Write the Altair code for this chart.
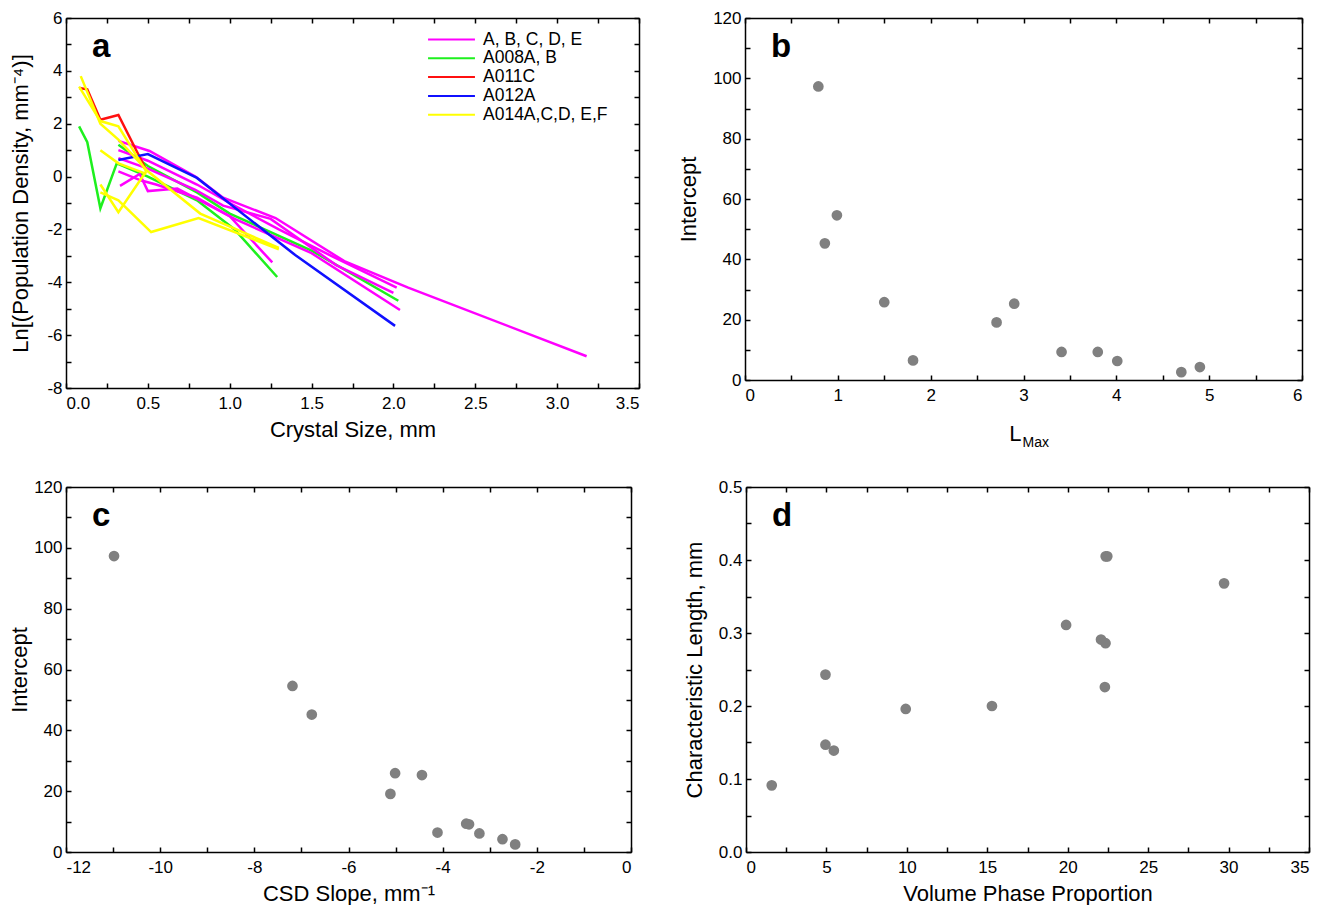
import altair as alt
import pandas as pd

FONT = "Liberation Sans"

# ---------------- Panel a: CSD lines ----------------
GROUPS = ["A, B, C, D, E", "A008A, B", "A011C", "A012A", "A014A,C,D, E,F"]
COLORS = ["#FF00FF", "#1EF01E", "#FF1010", "#1010FF", "#FFFF00"]

m1_x = [0.32, 0.51, 0.79, 0.96, 1.28, 1.70, 2.09, 3.18]
m1_y = [1.35, 0.97, 0.0, -0.8, -1.57, -3.2, -4.2, -6.8]
m2_x = [0.32, 0.50, 0.79, 0.96, 1.25, 1.65, 2.00]
m2_y = [0.7, 0.3, -0.5, -1.1, -1.6, -3.35, -4.4]
m3_x = [0.33, 0.45, 0.50, 0.68, 1.03, 1.50, 2.04]
m3_y = [-0.35, 0.1, -0.55, -0.45, -1.6, -2.9, -5.05]
m4_x = [0.32, 0.46, 0.55, 0.80, 1.00, 1.26]
m4_y = [0.2, -0.15, -0.3, -0.8, -1.5, -3.25]
m5_x = [0.32, 0.50, 0.80, 1.00, 1.30, 1.62, 2.02]
m5_y = [1.0, 0.6, -0.3, -1.0, -2.0, -3.0, -4.2]

g1_x = [0.08, 0.13, 0.21, 0.31, 0.50, 0.80, 1.03, 1.29]
g1_y = [1.9, 1.3, -1.2, 0.5, 0.0, -0.9, -2.0, -3.8]
g2_x = [0.32, 0.50, 0.80, 1.00, 1.50, 2.03]
g2_y = [1.2, 0.4, -0.6, -1.4, -2.8, -4.7]

r1_x = [0.08, 0.13, 0.21, 0.32, 0.49]
r1_y = [3.35, 3.3, 2.15, 2.33, 0.25]

b1_x = [0.32, 0.50, 0.80, 1.40, 2.01]
b1_y = [0.63, 0.85, -0.05, -2.97, -5.65]

y1_x = [0.09, 0.21, 0.32, 0.50, 0.82, 1.30]
y1_y = [3.8, 2.0, 1.4, 0.2, -1.4, -2.7]
y2_x = [0.08, 0.21, 0.32, 0.49]
y2_y = [3.4, 2.1, 1.9, 0.2]
y3_x = [0.21, 0.32, 0.49]
y3_y = [1.0, 0.5, 0.1]
y4_x = [0.21, 0.32, 0.49]
y4_y = [-0.3, -1.35, 0.2]
y5_x = [0.21, 0.32, 0.52, 0.81, 1.30]
y5_y = [-0.6, -0.9, -2.1, -1.57, -2.75]

LINES = [
    ("g1", GROUPS[1], g1_x, g1_y), ("g2", GROUPS[1], g2_x, g2_y),
    ("m1", GROUPS[0], m1_x, m1_y), ("m2", GROUPS[0], m2_x, m2_y),
    ("m3", GROUPS[0], m3_x, m3_y), ("m4", GROUPS[0], m4_x, m4_y),
    ("m5", GROUPS[0], m5_x, m5_y),
    ("r1", GROUPS[2], r1_x, r1_y), ("b1", GROUPS[3], b1_x, b1_y),
    ("y1", GROUPS[4], y1_x, y1_y), ("y2", GROUPS[4], y2_x, y2_y),
    ("y3", GROUPS[4], y3_x, y3_y), ("y4", GROUPS[4], y4_x, y4_y),
    ("y5", GROUPS[4], y5_x, y5_y),
]
rows = []
for k, (lid, grp, xs, ys) in enumerate(LINES):
    for i, (xv, yv) in enumerate(zip(xs, ys)):
        rows.append({"line": f"{k:02d}{lid}", "group": grp, "size": xv, "lnpd": yv, "ord": i})
df_a = pd.DataFrame(rows)

# ---------------- Panel b ----------------
lmax = [0.79, 0.99, 0.86, 1.50, 2.90, 2.71, 1.81, 3.41, 3.80, 4.01, 4.70, 4.90]
intercept_b = [97.3, 54.6, 45.3, 25.8, 25.3, 19.1, 6.5, 9.3, 9.3, 6.3, 2.6, 4.3]
df_b = pd.DataFrame({"lmax": lmax, "intercept": intercept_b})

# ---------------- Panel c ----------------
csd_slope = [-10.98, -7.19, -6.78, -5.01, -4.44, -5.11, -4.11, -3.50, -3.44, -3.22, -2.73, -2.46]
intercept_c = [97.3, 54.6, 45.2, 25.9, 25.3, 19.1, 6.4, 9.3, 9.1, 6.1, 4.2, 2.5]
df_c = pd.DataFrame({"slope": csd_slope, "intercept": intercept_c})

# ---------------- Panel d ----------------
vpp = [1.6, 4.94, 4.94, 5.46, 9.93, 15.29, 19.9, 22.07, 22.35, 22.31, 22.36, 22.46, 29.72]
char_len = [0.0913, 0.243, 0.147, 0.139, 0.196, 0.200, 0.311, 0.291, 0.286, 0.226, 0.405, 0.405, 0.368]
df_d = pd.DataFrame({"vpp": vpp, "clen": char_len})

TICK = dict(ticks=True, tickSize=5, tickWidth=1.5, labels=False, title=None)


def ax(**kw):
    base = dict(grid=False, labelFont=FONT, titleFont=FONT, labelFontSize=17,
                titleFontSize=22, labelColor="black", titleColor="black",
                titleFontWeight="normal", tickColor="black", domain=False,
                domainColor="black", domainWidth=1.5)
    base.update(kw)
    return alt.Axis(**base)


def panel(df, main_mark, xf, yf, xdom, ydom, xmajor, ymajor, xall, yall,
          xtitle, ytitle, W, H, letter, xlab, ylab, extra=None, xtp=8, ytp=10):
    xs = alt.Scale(domain=xdom, nice=False, zero=False)
    ys = alt.Scale(domain=ydom, nice=False, zero=False)
    enc = dict(
        x=alt.X(f"{xf}:Q", scale=xs, axis=ax(values=xmajor, labelExpr=xlab, ticks=False, domain=True,
                                            title=xtitle, labelPadding=7, titlePadding=xtp)),
        y=alt.Y(f"{yf}:Q", scale=ys, axis=ax(values=ymajor, labelExpr=ylab, ticks=False, domain=True,
                                            title=ytitle, labelPadding=4, titlePadding=ytp)),
    )
    if extra:
        enc.update(extra)
    main = main_mark.encode(**enc)
    # inward ticks at the bottom / left edges
    t1 = alt.Chart(df).mark_point(opacity=0).encode(
        x=alt.X(f"{xf}:Q", scale=xs, axis=ax(orient="top", offset=-H, values=xall, **TICK)),
        y=alt.Y(f"{yf}:Q", scale=ys, axis=ax(orient="right", offset=-W, values=yall, **TICK)),
    )
    # inward ticks + frame at the top / right edges
    t2 = alt.Chart(df).mark_point(opacity=0).encode(
        x=alt.X(f"{xf}:Q", scale=xs, axis=ax(orient="bottom", offset=-H, values=xall, domain=True, **TICK)),
        y=alt.Y(f"{yf}:Q", scale=ys, axis=ax(orient="left", offset=-W, values=yall, domain=True, **TICK)),
    )
    txt = alt.Chart(pd.DataFrame({"t": [letter]})).mark_text(
        font=FONT, fontSize=33, fontWeight="bold", align="left", baseline="top", color="black"
    ).encode(text="t:N", x=alt.value(26), y=alt.value(13))
    return alt.layer(main, t1, t2, txt).resolve_axis(x="independent", y="independent").properties(
        width=W, height=H)


def frange(a, b, step):
    n = int(round((b - a) / step))
    return [round(a + i * step, 6) for i in range(n + 1)]


PLAIN = "'' + datum.value"
F1 = "format(datum.value, '.1f')"

# Panel a
line_mark = alt.Chart(df_a).mark_line(strokeWidth=2.5)
legend = alt.Legend(orient="none", legendX=361, legendY=13, title=None, symbolType="stroke",
                    symbolSize=2200, symbolStrokeWidth=2, clipHeight=17, labelFontSize=17.5,
                    labelFont=FONT, labelColor="black", rowPadding=0.8, labelOffset=7, padding=0)
pa = panel(df_a, line_mark, "size", "lnpd", [0, 3.5], [-8, 6],
           frange(0, 3.5, 0.5), frange(-8, 6, 2), frange(0, 3.5, 0.25), frange(-8, 6, 1),
           "Crystal Size, mm", "Ln[(Population Density, mm⁻⁴)]", 573, 370, "a", F1, PLAIN,
           extra=dict(color=alt.Color("group:N", scale=alt.Scale(domain=GROUPS, range=COLORS),
                                      legend=legend),
                      detail="line:N", order="ord:Q"),
           ytp=14)

pt = dict(size=115, color="#808080", opacity=1)

# Panel b (x title built from two texts for the subscript)
WB = 557
pb_core = panel(df_b, alt.Chart(df_b).mark_circle(**pt), "lmax", "intercept", [0, 6], [0, 120],
                frange(0, 6, 1), frange(0, 120, 20), frange(0, 6, 0.5), frange(0, 120, 10),
                None, "Intercept", WB, 362, "b", PLAIN, PLAIN, ytp=12)
sub_df = pd.DataFrame({"t": ["L"], "s": ["Max"]})
l_main = alt.Chart(sub_df).mark_text(font=FONT, fontSize=22, align="right", baseline="alphabetic",
                                     color="black").encode(text="t:N", x=alt.value(WB / 2 - 2), y=alt.value(423))
l_sub = alt.Chart(sub_df).mark_text(font=FONT, fontSize=14, align="left", baseline="alphabetic",
                                    color="black").encode(text="s:N", x=alt.value(WB / 2 - 1), y=alt.value(429))
pb = alt.layer(pb_core, l_main, l_sub)

# Panel c
pc = panel(df_c, alt.Chart(df_c).mark_circle(**pt), "slope", "intercept", [-12, 0], [0, 120],
           frange(-12, 0, 2), frange(0, 120, 20), frange(-12, 0, 1), frange(0, 120, 10),
           "CSD Slope, mm⁻¹", "Intercept", 565, 365, "c", PLAIN, PLAIN, ytp=2)

# Panel d
pd_ = panel(df_d, alt.Chart(df_d).mark_circle(**pt), "vpp", "clen", [0, 35], [0, 0.5],
            frange(0, 35, 5), frange(0, 0.5, 0.1), frange(0, 35, 2.5), frange(0, 0.5, 0.05),
            "Volume Phase Proportion", "Characteristic Length, mm", 563, 365, "d", PLAIN, F1, ytp=12)

chart = alt.vconcat(
    alt.hconcat(pa, pb, spacing=36),
    alt.hconcat(pc, pd_, spacing=49),
    spacing=26,
).configure_view(strokeWidth=0).configure(background="white", padding=0)

chart.save("out.html", embed_options={"renderer": "svg", "actions": False})
